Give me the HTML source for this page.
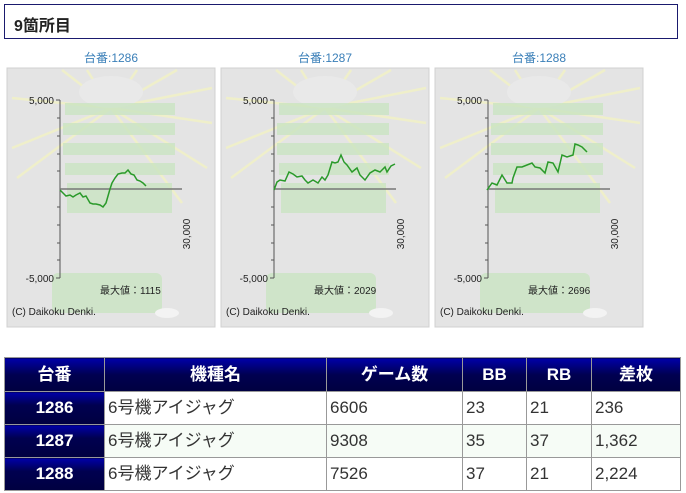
<!DOCTYPE html>
<html><head><meta charset="utf-8"><style>
body{margin:0;width:686px;height:493px;background:#fff;font-family:"Liberation Sans","Noto Sans CJK JP",sans-serif;position:relative;overflow:hidden}
.hd{position:absolute;left:4px;top:4px;width:674px;height:35px;border:1px solid #1a1a6e;box-sizing:border-box}
.hd span{position:absolute;left:9px;top:7px;font-size:16px;font-weight:bold;color:#222}
table{position:absolute;left:4px;top:357px;border-collapse:collapse;font-size:17px;line-height:18px}
td,th{border:1px solid #999;height:32px;padding:0 3px;box-sizing:border-box;vertical-align:middle}
th{color:#fff;font-weight:bold;background:linear-gradient(#0000a8,#000050 50%,#000040);text-align:center}
td{color:#333;text-align:left}
td.n{color:#fff;font-weight:bold;text-align:center;background:linear-gradient(#0000a8,#000050 40%,#000040)}
</style></head><body>
<div class="hd"><span>9箇所目</span></div>
<svg width="686" height="340" style="position:absolute;left:0;top:0" font-family="Liberation Sans, Noto Sans CJK JP, sans-serif">
<defs>
<g id="p">
<rect x="0" y="0" width="208" height="259" fill="#e4e4e4" stroke="#d0d0d0"/>
<g stroke="#f2f2c4" stroke-width="2.5" opacity="0.8">
<line x1="104" y1="40" x2="5" y2="30"/><line x1="104" y1="40" x2="5" y2="80"/><line x1="104" y1="40" x2="10" y2="110"/>
<line x1="104" y1="40" x2="55" y2="2"/><line x1="104" y1="40" x2="80" y2="2"/><line x1="104" y1="40" x2="130" y2="2"/>
<line x1="104" y1="40" x2="170" y2="2"/><line x1="104" y1="40" x2="205" y2="20"/><line x1="104" y1="40" x2="205" y2="55"/>
<line x1="104" y1="40" x2="200" y2="100"/><line x1="104" y1="40" x2="175" y2="135"/>
</g>
<ellipse cx="104" cy="24" rx="32" ry="16" fill="#e9e9e9"/>
<g fill="#c8e4c0" opacity="0.75">
<rect x="58" y="35" width="110" height="12"/><rect x="56" y="55" width="112" height="12"/><rect x="56" y="75" width="112" height="12"/>
<rect x="58" y="95" width="110" height="12"/><rect x="60" y="115" width="105" height="30"/>
<rect x="45" y="205" width="110" height="40" rx="6"/>
</g>
<ellipse cx="160" cy="245" rx="12" ry="5" fill="#f3f3f3"/>
<line x1="53" y1="32" x2="53" y2="210" stroke="#555"/>
<line x1="53" y1="121" x2="175" y2="121" stroke="#777" stroke-width="1.5"/>
<g stroke="#555"><line x1="49" y1="32" x2="53" y2="32"/><line x1="50" y1="50" x2="53" y2="50"/><line x1="50" y1="68" x2="53" y2="68"/><line x1="50" y1="86" x2="53" y2="86"/><line x1="50" y1="103" x2="53" y2="103"/><line x1="50" y1="139" x2="53" y2="139"/><line x1="50" y1="157" x2="53" y2="157"/><line x1="50" y1="175" x2="53" y2="175"/><line x1="50" y1="192" x2="53" y2="192"/><line x1="49" y1="210" x2="53" y2="210"/></g>
<text x="47" y="36" font-size="10" text-anchor="end" fill="#222">5,000</text>
<text x="47" y="214" font-size="10" text-anchor="end" fill="#222">-5,000</text>
<text transform="translate(183,166) rotate(-90)" font-size="10" text-anchor="middle" fill="#222">30,000</text>
<text x="5" y="247" font-size="10" fill="#222">(C) Daikoku Denki.</text>
</g>
</defs>
<g fill="#3a7fb8" font-size="12" text-anchor="middle"><text x="111" y="62">台番:1286</text><text x="325" y="62">台番:1287</text><text x="539" y="62">台番:1288</text></g>
<use href="#p" x="7" y="68"/><use href="#p" x="221" y="68"/><use href="#p" x="435" y="68"/>
<g font-size="10" fill="#222"><text x="100" y="294">最大値：1115</text><text x="314" y="294">最大値：2029</text><text x="528" y="294">最大値：2696</text></g>
<g fill="none" stroke="#2a9a2a" stroke-width="1.5">
<polyline points="60,190 63,193 66,196 70,195 73,197 76,195 80,193 83,197 86,196 90,203 93,204 96,204 100,205 103,207 106,203 108,196 110,189 112,183 115,178 118,174 122,173 125,173 128,170 131,174 134,175 137,180 140,181 143,183 146,186"/>
<polyline points="274,190 277,182 280,180 285,181 289,172 293,174 297,177 302,176 305,180 308,183 313,180 318,183 322,177 325,180 328,175 332,162 335,163 338,162 341,155 344,162 347,165 352,172 357,168 360,175 365,180 370,173 375,170 380,172 385,167 387,172 391,166 395,164"/>
<polyline points="487,190 492,183 497,185 502,175 507,183 512,183 513,178 517,167 522,167 527,165 532,163 535,167 540,168 545,173 548,162 553,163 558,172 562,155 567,157 573,155 575,144 578,145 582,147 587,152"/>
</g>
</svg>
<table>
<tr style="height:34px"><th style="width:100px">台番</th><th style="width:222px">機種名</th><th style="width:136px">ゲーム数</th><th style="width:64px">BB</th><th style="width:65px">RB</th><th style="width:89px">差枚</th></tr>
<tr style="height:33px"><td class="n">1286</td><td>6号機アイジャグ</td><td>6606</td><td>23</td><td>21</td><td>236</td></tr>
<tr style="height:33px;background:#f6fcf6"><td class="n">1287</td><td>6号機アイジャグ</td><td>9308</td><td>35</td><td>37</td><td>1,362</td></tr>
<tr style="height:33px"><td class="n">1288</td><td>6号機アイジャグ</td><td>7526</td><td>37</td><td>21</td><td>2,224</td></tr>
</table>
</body></html>
